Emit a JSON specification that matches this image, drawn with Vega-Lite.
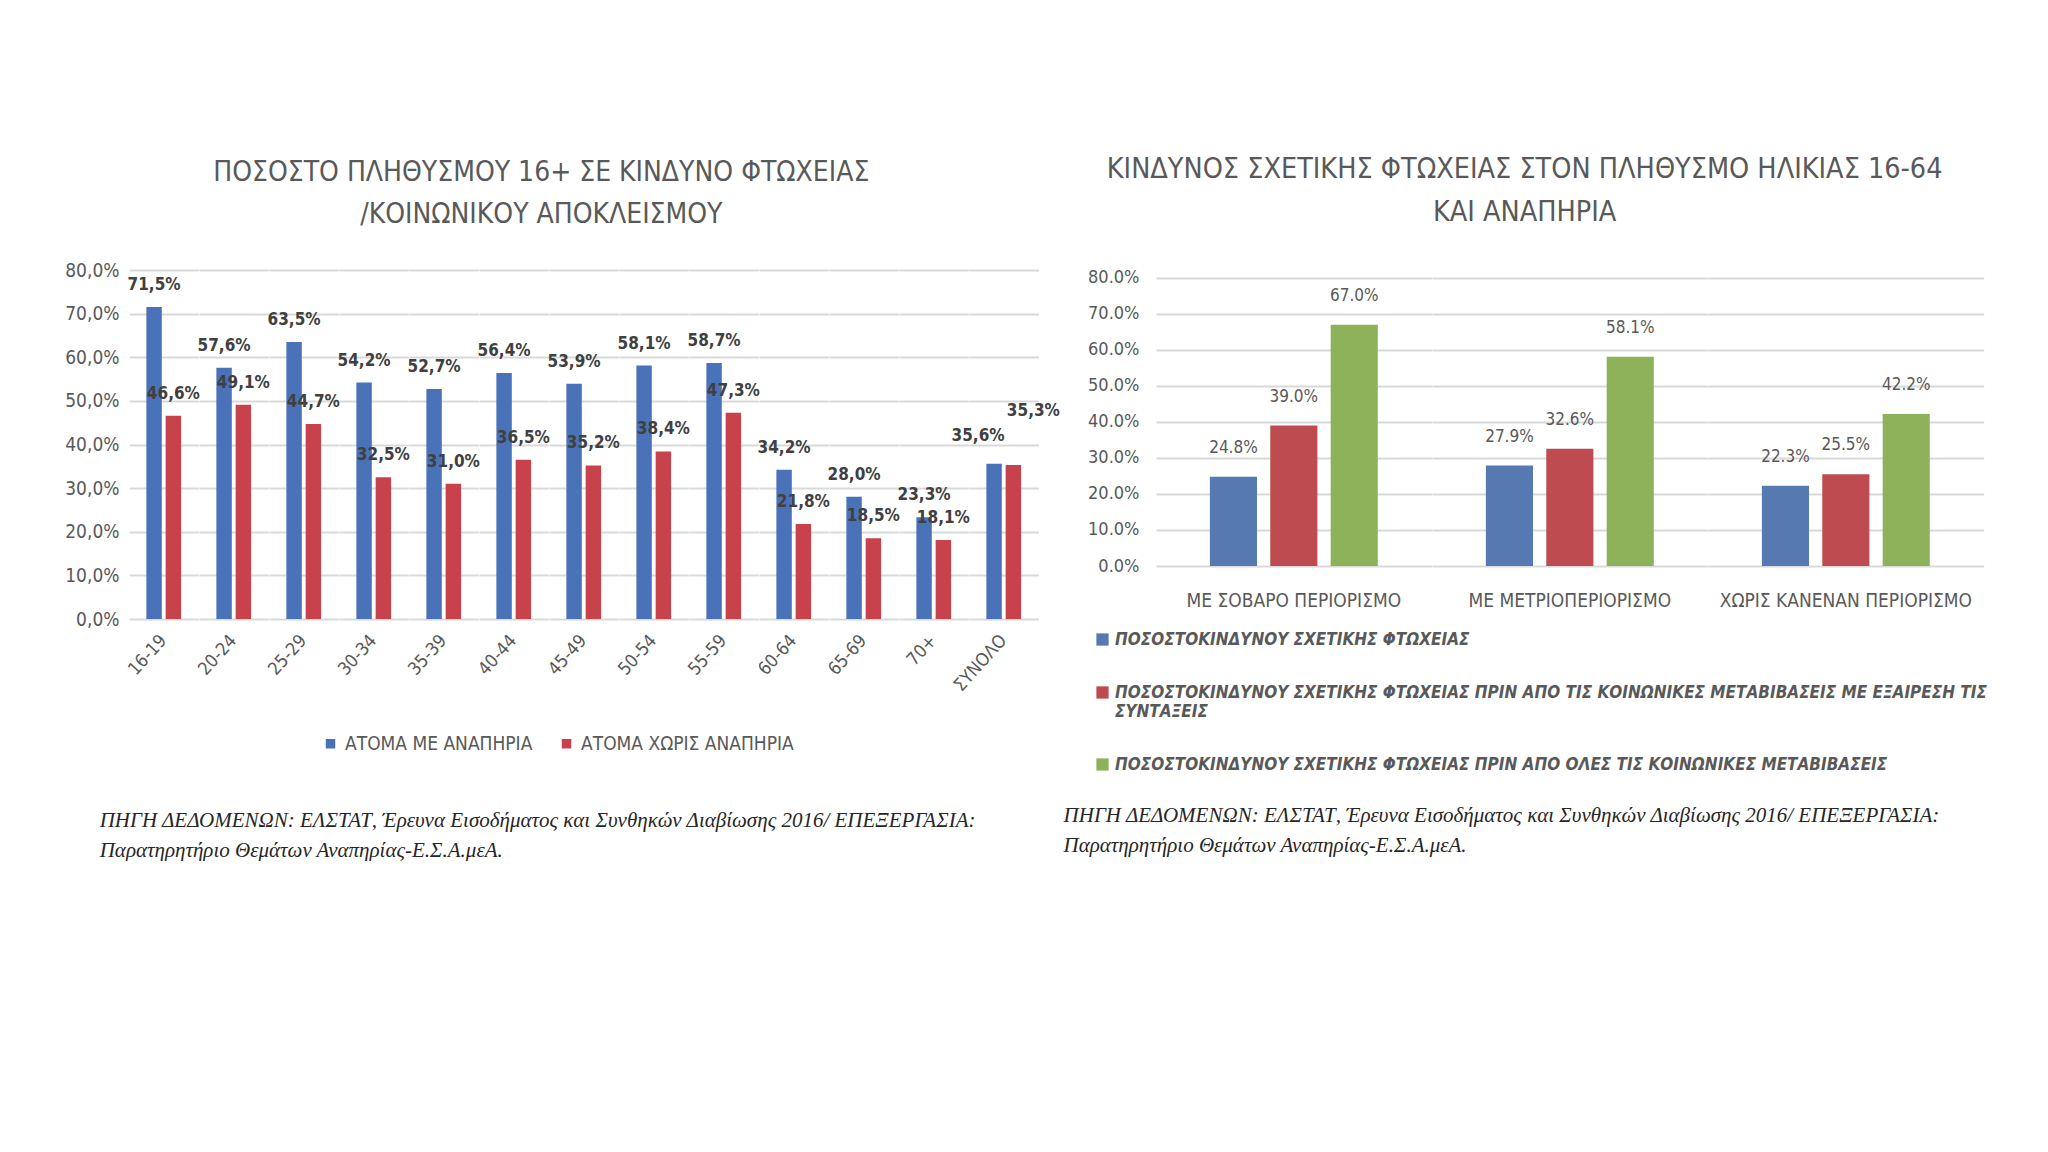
{
  "$schema": "https://vega.github.io/schema/vega-lite/v6.json",
  "background": "white",
  "padding": {"left": 64, "top": 155, "right": 0, "bottom": 0},
  "autosize": {"type": "pad"},
  "spacing": 3,
  "config": {
    "view": {"stroke": null},
    "font": "Liberation Sans Narrow, DejaVu Sans Condensed, sans-serif",
    "axis": {"labelFont": "Liberation Sans Narrow, DejaVu Sans Condensed, sans-serif", "labelColor": "#595959", "gridColor": "#d9d9d9", "gridWidth": 2, "domainColor": "#d9d9d9", "domainWidth": 2, "ticks": false, "title": null, "labelLimit": 0},
    "legend": {"labelFont": "Liberation Sans Narrow, DejaVu Sans Condensed, sans-serif", "labelColor": "#595959", "title": null, "labelLimit": 0},
    "header": {"labelFont": "Liberation Sans Narrow, DejaVu Sans Condensed, sans-serif", "labelColor": "#595959", "title": null, "labelLimit": 0}
  },
  "resolve": {"scale": {"color": "independent"}, "legend": {"color": "independent"}},
  "hconcat": [
    {
      "title": {"text": ["ΠΗΓΗ ΔΕΔΟΜΕΝΩΝ: ΕΛΣΤΑΤ, Έρευνα Εισοδήματος και Συνθηκών Διαβίωσης 2016/ ΕΠΕΞΕΡΓΑΣΙΑ:", "Παρατηρητήριο Θεμάτων Αναπηρίας-Ε.Σ.Α.μεΑ."], "orient": "bottom", "anchor": "start", "font": "Liberation Serif", "fontStyle": "italic", "fontWeight": "normal", "fontSize": 21, "color": "#262626", "lineHeight": 30, "offset": 56, "dx": 35},
      "vconcat": [
        {
          "title": {"text": ["ΠΟΣΟΣΤΟ ΠΛΗΘΥΣΜΟΥ 16+ ΣΕ ΚΙΝΔΥΝΟ ΦΤΩΧΕΙΑΣ", "/ΚΟΙΝΩΝΙΚΟΥ ΑΠΟΚΛΕΙΣΜΟΥ"], "anchor": "middle", "fontSize": 28, "fontWeight": "normal", "color": "#595959", "lineHeight": 42, "offset": 32, "dx": -21},
          "data": {"values": [
            {"age": "16-19", "group": "ΑΤΟΜΑ ΜΕ ΑΝΑΠΗΡΙΑ", "value": 0.715},
            {"age": "16-19", "group": "ΑΤΟΜΑ ΧΩΡΙΣ ΑΝΑΠΗΡΙΑ", "value": 0.466},
            {"age": "20-24", "group": "ΑΤΟΜΑ ΜΕ ΑΝΑΠΗΡΙΑ", "value": 0.576},
            {"age": "20-24", "group": "ΑΤΟΜΑ ΧΩΡΙΣ ΑΝΑΠΗΡΙΑ", "value": 0.491},
            {"age": "25-29", "group": "ΑΤΟΜΑ ΜΕ ΑΝΑΠΗΡΙΑ", "value": 0.635},
            {"age": "25-29", "group": "ΑΤΟΜΑ ΧΩΡΙΣ ΑΝΑΠΗΡΙΑ", "value": 0.447},
            {"age": "30-34", "group": "ΑΤΟΜΑ ΜΕ ΑΝΑΠΗΡΙΑ", "value": 0.542},
            {"age": "30-34", "group": "ΑΤΟΜΑ ΧΩΡΙΣ ΑΝΑΠΗΡΙΑ", "value": 0.325},
            {"age": "35-39", "group": "ΑΤΟΜΑ ΜΕ ΑΝΑΠΗΡΙΑ", "value": 0.527},
            {"age": "35-39", "group": "ΑΤΟΜΑ ΧΩΡΙΣ ΑΝΑΠΗΡΙΑ", "value": 0.310},
            {"age": "40-44", "group": "ΑΤΟΜΑ ΜΕ ΑΝΑΠΗΡΙΑ", "value": 0.564},
            {"age": "40-44", "group": "ΑΤΟΜΑ ΧΩΡΙΣ ΑΝΑΠΗΡΙΑ", "value": 0.365},
            {"age": "45-49", "group": "ΑΤΟΜΑ ΜΕ ΑΝΑΠΗΡΙΑ", "value": 0.539},
            {"age": "45-49", "group": "ΑΤΟΜΑ ΧΩΡΙΣ ΑΝΑΠΗΡΙΑ", "value": 0.352},
            {"age": "50-54", "group": "ΑΤΟΜΑ ΜΕ ΑΝΑΠΗΡΙΑ", "value": 0.581},
            {"age": "50-54", "group": "ΑΤΟΜΑ ΧΩΡΙΣ ΑΝΑΠΗΡΙΑ", "value": 0.384},
            {"age": "55-59", "group": "ΑΤΟΜΑ ΜΕ ΑΝΑΠΗΡΙΑ", "value": 0.587},
            {"age": "55-59", "group": "ΑΤΟΜΑ ΧΩΡΙΣ ΑΝΑΠΗΡΙΑ", "value": 0.473},
            {"age": "60-64", "group": "ΑΤΟΜΑ ΜΕ ΑΝΑΠΗΡΙΑ", "value": 0.342},
            {"age": "60-64", "group": "ΑΤΟΜΑ ΧΩΡΙΣ ΑΝΑΠΗΡΙΑ", "value": 0.218},
            {"age": "65-69", "group": "ΑΤΟΜΑ ΜΕ ΑΝΑΠΗΡΙΑ", "value": 0.280},
            {"age": "65-69", "group": "ΑΤΟΜΑ ΧΩΡΙΣ ΑΝΑΠΗΡΙΑ", "value": 0.185},
            {"age": "70+", "group": "ΑΤΟΜΑ ΜΕ ΑΝΑΠΗΡΙΑ", "value": 0.233},
            {"age": "70+", "group": "ΑΤΟΜΑ ΧΩΡΙΣ ΑΝΑΠΗΡΙΑ", "value": 0.181},
            {"age": "ΣΥΝΟΛΟ", "group": "ΑΤΟΜΑ ΜΕ ΑΝΑΠΗΡΙΑ", "value": 0.356},
            {"age": "ΣΥΝΟΛΟ", "group": "ΑΤΟΜΑ ΧΩΡΙΣ ΑΝΑΠΗΡΙΑ", "value": 0.353}
          ]},
          "facet": {"column": {"field": "age", "type": "nominal",
                     "sort": ["16-19", "20-24", "25-29", "30-34", "35-39", "40-44", "45-49", "50-54", "55-59", "60-64", "65-69", "70+", "ΣΥΝΟΛΟ"],
                     "header": {"title": null, "labelOrient": "bottom", "labelAngle": -48, "labelAlign": "right", "labelBaseline": "middle", "labelFontSize": 18, "labelPadding": 19}}},
          "spacing": {"column": 0},
          "bounds": "flush",
          "spec": {
            "width": 69.46,
            "height": 349,
            "encoding": {
              "x": {"field": "group", "type": "nominal", "sort": null, "scale": {"paddingInner": 0.2, "paddingOuter": 0.9}, "axis": null},
              "y": {"field": "value", "type": "quantitative", "scale": {"domain": [0, 0.8]},
                    "axis": {"tickCount": 8, "labelExpr": "replace(format(datum.value, '.1%'), '.', ',')", "labelFontSize": 19, "labelPadding": 10, "domain": false}}
            },
            "layer": [
              {"mark": {"type": "bar"},
               "encoding": {"color": {"field": "group", "type": "nominal", "sort": null,
                        "scale": {"range": ["#4a72b8", "#c8424c"]},
                        "legend": {"orient": "none", "direction": "horizontal", "legendX": 192, "legendY": 464, "symbolType": "square", "symbolSize": 90, "labelFontSize": 19, "columnPadding": 24, "labelOffset": 5}}}},
              {"mark": {"type": "text", "baseline": "middle", "fontSize": 17, "fontWeight": "bold", "color": "#404040",
                        "dy": {"expr": "datum.age == 'ΣΥΝΟΛΟ' && datum.group == 'ΑΤΟΜΑ ΧΩΡΙΣ ΑΝΑΠΗΡΙΑ' ? -54 : (datum.age == 'ΣΥΝΟΛΟ' ? -28 : -22)"},
                        "dx": {"expr": "datum.age == 'ΣΥΝΟΛΟ' && datum.group == 'ΑΤΟΜΑ ΧΩΡΙΣ ΑΝΑΠΗΡΙΑ' ? 20 : (datum.age == 'ΣΥΝΟΛΟ' ? -16 : 0)"},
                        "text": {"expr": "replace(format(datum.value, '.1%'), '.', ',')"}}}
            ]
          }
        }
      ]
    },
    {
      "title": {"text": ["ΠΗΓΗ ΔΕΔΟΜΕΝΩΝ: ΕΛΣΤΑΤ, Έρευνα Εισοδήματος και Συνθηκών Διαβίωσης 2016/ ΕΠΕΞΕΡΓΑΣΙΑ:", "Παρατηρητήριο Θεμάτων Αναπηρίας-Ε.Σ.Α.μεΑ."], "orient": "bottom", "anchor": "start", "font": "Liberation Serif", "fontStyle": "italic", "fontWeight": "normal", "fontSize": 21, "color": "#262626", "lineHeight": 30, "offset": 32, "dx": -24},
      "vconcat": [
        {
          "title": {"text": ["ΚΙΝΔΥΝΟΣ ΣΧΕΤΙΚΗΣ ΦΤΩΧΕΙΑΣ ΣΤΟΝ ΠΛΗΘΥΣΜΟ ΗΛΙΚΙΑΣ 16-64", "ΚΑΙ ΑΝΑΠΗΡΙΑ"], "anchor": "middle", "fontSize": 28.5, "fontWeight": "normal", "color": "#595959", "lineHeight": 43, "offset": 42, "dx": -11},
          "data": {"values": [
            {"category": "ΜΕ ΣΟΒΑΡΟ ΠΕΡΙΟΡΙΣΜΟ", "series": "ΠΟΣΟΣΤΟΚΙΝΔΥΝΟΥ ΣΧΕΤΙΚΗΣ ΦΤΩΧΕΙΑΣ", "value": 0.248},
            {"category": "ΜΕ ΣΟΒΑΡΟ ΠΕΡΙΟΡΙΣΜΟ", "series": "ΠΟΣΟΣΤΟΚΙΝΔΥΝΟΥ ΣΧΕΤΙΚΗΣ ΦΤΩΧΕΙΑΣ ΠΡΙΝ ΑΠΟ ΤΙΣ ΚΟΙΝΩΝΙΚΕΣ ΜΕΤΑΒΙΒΑΣΕΙΣ ΜΕ ΕΞΑΙΡΕΣΗ ΤΙΣ ΣΥΝΤΑΞΕΙΣ", "value": 0.390},
            {"category": "ΜΕ ΣΟΒΑΡΟ ΠΕΡΙΟΡΙΣΜΟ", "series": "ΠΟΣΟΣΤΟΚΙΝΔΥΝΟΥ ΣΧΕΤΙΚΗΣ ΦΤΩΧΕΙΑΣ ΠΡΙΝ ΑΠΟ ΟΛΕΣ ΤΙΣ ΚΟΙΝΩΝΙΚΕΣ ΜΕΤΑΒΙΒΑΣΕΙΣ", "value": 0.670},
            {"category": "ΜΕ ΜΕΤΡΙΟΠΕΡΙΟΡΙΣΜΟ", "series": "ΠΟΣΟΣΤΟΚΙΝΔΥΝΟΥ ΣΧΕΤΙΚΗΣ ΦΤΩΧΕΙΑΣ", "value": 0.279},
            {"category": "ΜΕ ΜΕΤΡΙΟΠΕΡΙΟΡΙΣΜΟ", "series": "ΠΟΣΟΣΤΟΚΙΝΔΥΝΟΥ ΣΧΕΤΙΚΗΣ ΦΤΩΧΕΙΑΣ ΠΡΙΝ ΑΠΟ ΤΙΣ ΚΟΙΝΩΝΙΚΕΣ ΜΕΤΑΒΙΒΑΣΕΙΣ ΜΕ ΕΞΑΙΡΕΣΗ ΤΙΣ ΣΥΝΤΑΞΕΙΣ", "value": 0.326},
            {"category": "ΜΕ ΜΕΤΡΙΟΠΕΡΙΟΡΙΣΜΟ", "series": "ΠΟΣΟΣΤΟΚΙΝΔΥΝΟΥ ΣΧΕΤΙΚΗΣ ΦΤΩΧΕΙΑΣ ΠΡΙΝ ΑΠΟ ΟΛΕΣ ΤΙΣ ΚΟΙΝΩΝΙΚΕΣ ΜΕΤΑΒΙΒΑΣΕΙΣ", "value": 0.581},
            {"category": "ΧΩΡΙΣ ΚΑΝΕΝΑΝ ΠΕΡΙΟΡΙΣΜΟ", "series": "ΠΟΣΟΣΤΟΚΙΝΔΥΝΟΥ ΣΧΕΤΙΚΗΣ ΦΤΩΧΕΙΑΣ", "value": 0.223},
            {"category": "ΧΩΡΙΣ ΚΑΝΕΝΑΝ ΠΕΡΙΟΡΙΣΜΟ", "series": "ΠΟΣΟΣΤΟΚΙΝΔΥΝΟΥ ΣΧΕΤΙΚΗΣ ΦΤΩΧΕΙΑΣ ΠΡΙΝ ΑΠΟ ΤΙΣ ΚΟΙΝΩΝΙΚΕΣ ΜΕΤΑΒΙΒΑΣΕΙΣ ΜΕ ΕΞΑΙΡΕΣΗ ΤΙΣ ΣΥΝΤΑΞΕΙΣ", "value": 0.255},
            {"category": "ΧΩΡΙΣ ΚΑΝΕΝΑΝ ΠΕΡΙΟΡΙΣΜΟ", "series": "ΠΟΣΟΣΤΟΚΙΝΔΥΝΟΥ ΣΧΕΤΙΚΗΣ ΦΤΩΧΕΙΑΣ ΠΡΙΝ ΑΠΟ ΟΛΕΣ ΤΙΣ ΚΟΙΝΩΝΙΚΕΣ ΜΕΤΑΒΙΒΑΣΕΙΣ", "value": 0.422}
          ]},
          "facet": {"column": {"field": "category", "type": "nominal",
                     "sort": ["ΜΕ ΣΟΒΑΡΟ ΠΕΡΙΟΡΙΣΜΟ", "ΜΕ ΜΕΤΡΙΟΠΕΡΙΟΡΙΣΜΟ", "ΧΩΡΙΣ ΚΑΝΕΝΑΝ ΠΕΡΙΟΡΙΣΜΟ"],
                     "header": {"title": null, "labelOrient": "bottom", "labelAngle": 0, "labelFontSize": 19, "labelPadding": 45}}},
          "spacing": {"column": 0},
          "bounds": "flush",
          "spec": {
            "width": 275.67,
            "height": 296,
            "encoding": {
              "x": {"field": "series", "type": "nominal", "sort": null, "scale": {"paddingInner": 0.22, "paddingOuter": 0.892}, "axis": null},
              "y": {"field": "value", "type": "quantitative", "scale": {"domain": [0, 0.8222], "nice": false},
                    "axis": {"values": [0, 0.1, 0.2, 0.3, 0.4, 0.5, 0.6, 0.7, 0.8], "format": ".1%", "labelFontSize": 18, "labelPadding": 17, "domain": false}}
            },
            "layer": [
              {"mark": {"type": "bar"},
               "encoding": {"color": {"field": "series", "type": "nominal", "sort": null,
                        "scale": {"range": ["#5579b0", "#be4b4f", "#8db25a"]},
                        "legend": {"orient": "none", "direction": "vertical", "legendX": -62, "legendY": 361, "symbolType": "square", "symbolSize": 150, "labelFontSize": 17, "labelFontStyle": "italic", "labelFontWeight": "bold", "rowPadding": 35, "labelOffset": 4,
                                   "labelExpr": "datum.label == 'ΠΟΣΟΣΤΟΚΙΝΔΥΝΟΥ ΣΧΕΤΙΚΗΣ ΦΤΩΧΕΙΑΣ ΠΡΙΝ ΑΠΟ ΤΙΣ ΚΟΙΝΩΝΙΚΕΣ ΜΕΤΑΒΙΒΑΣΕΙΣ ΜΕ ΕΞΑΙΡΕΣΗ ΤΙΣ ΣΥΝΤΑΞΕΙΣ' ? ['ΠΟΣΟΣΤΟΚΙΝΔΥΝΟΥ ΣΧΕΤΙΚΗΣ ΦΤΩΧΕΙΑΣ ΠΡΙΝ ΑΠΟ ΤΙΣ ΚΟΙΝΩΝΙΚΕΣ ΜΕΤΑΒΙΒΑΣΕΙΣ ΜΕ ΕΞΑΙΡΕΣΗ ΤΙΣ', 'ΣΥΝΤΑΞΕΙΣ'] : datum.label"}}}},
              {"mark": {"type": "text", "baseline": "middle", "dy": -29, "fontSize": 17, "color": "#595959"}, "encoding": {"text": {"field": "value", "type": "quantitative", "format": ".1%"}}}
            ]
          }
        }
      ]
    }
  ]
}
